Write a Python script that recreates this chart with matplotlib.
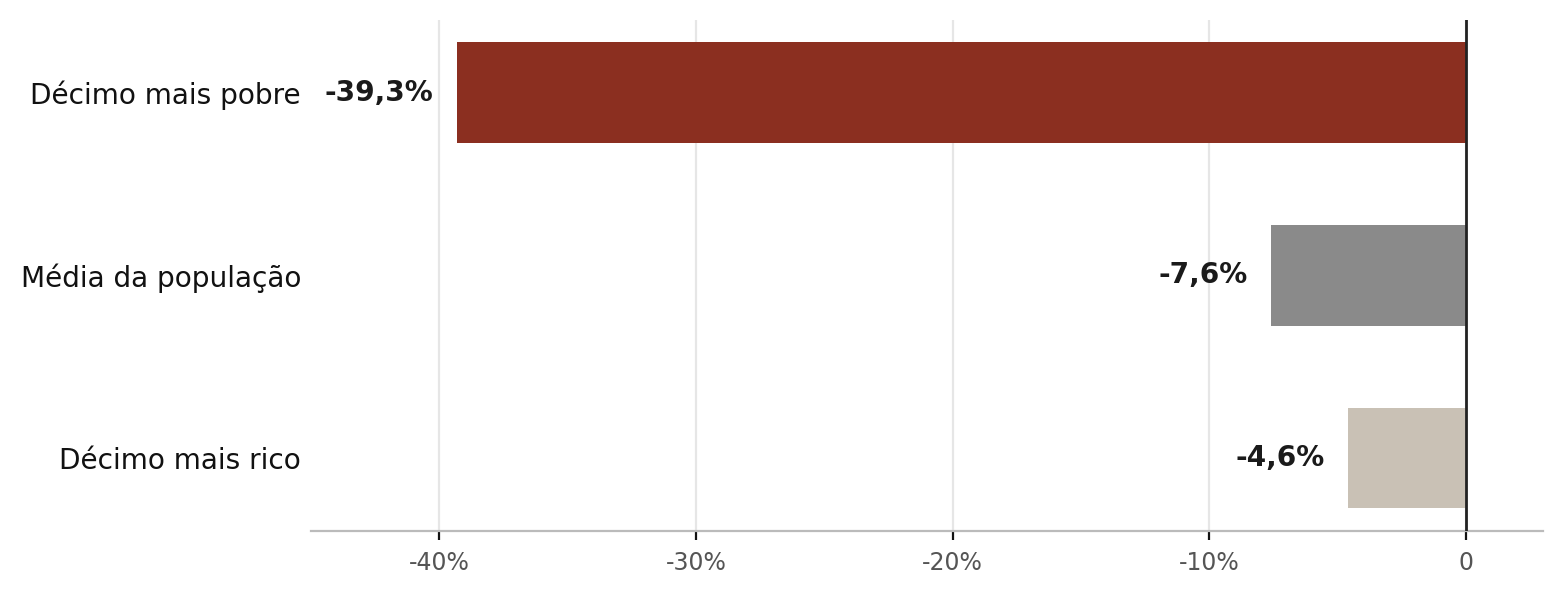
import matplotlib.pyplot as plt

plt.rcParams['font.family'] = ['DejaVu Sans']

categorias = ['Décimo mais pobre', 'Média da população', 'Décimo mais rico']
variacao = [-39.3, -7.6, -4.6]
rotulos = ['-39,3%', '-7,6%', '-4,6%']
cores = ['#8B2F20', '#8A8A8A', '#C9C1B5']
ticks_x = [-40, -30, -20, -10, 0]
ticks_txt = ['-40%', '-30%', '-20%', '-10%', '0']

fig, ax = plt.subplots(figsize=(7.81, 2.97), dpi=200)
fig.subplots_adjust(left=0.199, right=0.988, top=0.967, bottom=0.106)

pos = list(range(len(categorias)))
ax.barh(pos, variacao, height=0.55, color=cores, zorder=2)

for p, v, r in zip(pos, variacao, rotulos):
    ax.annotate(r, (v, p), xytext=(-8.5, 0), textcoords='offset points',
                ha='right', va='center', fontsize=10.1, fontweight='bold',
                color='#1a1a1a')

ax.axvline(0, color='#222222', linewidth=1.0, zorder=3)

ax.set_xlim(-45, 3)
ax.set_ylim(2.4, -0.4)
ax.set_yticks(pos)
ax.set_yticklabels(categorias, fontsize=10.1, color='#111111')
ax.set_xticks(ticks_x)
ax.set_xticklabels(ticks_txt, fontsize=8.5, color='#555555')

ax.grid(axis='x', color='#e6e6e6', linewidth=0.8, zorder=0)
ax.set_axisbelow(True)
for s in ['top', 'right', 'left']:
    ax.spines[s].set_visible(False)
ax.spines['bottom'].set_color('#bbbbbb')
ax.spines['bottom'].set_linewidth(0.8)
ax.tick_params(axis='y', length=0, pad=3.5)
ax.tick_params(axis='x', length=3.3, width=0.8, color='#111111', pad=4)

fig.savefig('out.png', dpi=200)
